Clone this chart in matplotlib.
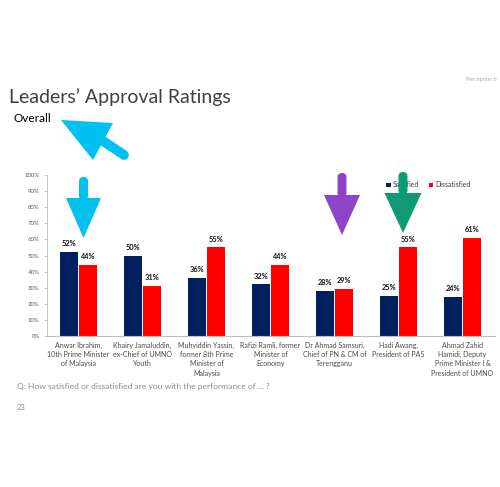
import matplotlib
matplotlib.use("Agg")
import matplotlib.pyplot as plt
import numpy as np
from matplotlib.patches import Polygon, FancyBboxPatch

# data
leaders = [
    "Anwar Ibrahim,\n10th Prime Minister\nof Malaysia",
    "Khairy Jamaluddin,\nex-Chief of UMNO\nYouth",
    "Muhyiddin Yassin,\nformer 8th Prime\nMinister of\nMalaysia",
    "Rafizi Ramli, former\nMinister of\nEconomy",
    "Dr Ahmad Samsuri,\nChief of PN & CM of\nTerengganu",
    "Hadi Awang,\nPresident of PAS",
    "Ahmad Zahid\nHamidi, Deputy\nPrime Minister I &\nPresident of UMNO",
]
satisfied = [52, 50, 36, 32, 28, 25, 24]
dissatisfied = [44, 31, 55, 44, 29, 55, 61]
y_ticks = list(range(0, 101, 10))

NAVY = "#002060"
RED = "#FF0000"
W, H = 500, 487

plt.rcParams["font.family"] = ["Lato", "DejaVu Sans"]

fig = plt.figure(figsize=(W / 100, H / 100), dpi=100)
fig.patch.set_facecolor("white")


def fx(px):
    return px / W


def fy(py):
    return 1 - py / H


# main chart area
ax = fig.add_axes([fx(46.5), fy(336), fx(494.5) - fx(46.5), fy(175) - fy(336)])
x = np.arange(len(leaders))
bw = 0.28
off = 0.145
b1 = ax.bar(x - off, satisfied, bw, color=NAVY, label="Satisfied")
b2 = ax.bar(x + off, dissatisfied, bw, color=RED, label="Dissatisfied")

for bars, vals in ((b1, satisfied), (b2, dissatisfied)):
    for b, v in zip(bars, vals):
        ax.annotate(f"{v}%", (b.get_x() + b.get_width() / 2, v),
                    xytext=(0, 3.5), textcoords="offset points",
                    ha="center", va="bottom", fontsize=5.3,
                    fontweight="bold", color="#111111")

ax.set_xlim(-0.5, len(leaders) - 0.5)
ax.set_ylim(0, 100)
ax.set_yticks(y_ticks)
ax.set_yticklabels([f"{t}%" for t in y_ticks])
ax.tick_params(axis="y", labelsize=4.3, labelcolor="#595959", length=2,
               color="#bfbfbf", width=0.6, pad=3)
ax.set_xticks(x)
ax.set_xticklabels(leaders, fontsize=5.0, color="#4a4a4a", linespacing=1.4)
ax.tick_params(axis="x", length=0, pad=4)
for s in ("top", "right"):
    ax.spines[s].set_visible(False)
ax.spines["left"].set_color("#bfbfbf")
ax.spines["left"].set_linewidth(0.6)
ax.spines["bottom"].set_color("#bfbfbf")
ax.spines["bottom"].set_linewidth(0.8)

leg = ax.legend(loc="upper right", bbox_to_anchor=(0.96, 1.0), ncol=2,
                frameon=False, fontsize=5, handlelength=0.6, handleheight=0.6,
                handletextpad=0.3, columnspacing=1.4, labelcolor="#404040")

# slide text
fig.text(fx(9), fy(97), "Leaders\u2019 Approval Ratings", fontsize=14,
         color="#404040", va="center", ha="left")
fig.text(fx(13), fy(118), "Overall", fontsize=8.5, color="black",
         va="center", ha="left")
fig.text(fx(466), fy(80), "Perception b", fontsize=4, color="#aaaaaa",
         va="center", ha="left")
fig.text(fx(17), fy(387), "Q: How satisfied or dissatisfied are you with the performance of ... ?",
         fontsize=6.1, color="#8c8c8c", va="center", ha="left")
fig.text(fx(17), fy(407), "23", fontsize=5.5, color="#8c8c8c",
         va="center", ha="left")


# highlight arrows drawn on top of the slide
def down_arrow(cx, top, head_top, half, tip, color, shaft=4.5):
    fig.patches.append(FancyBboxPatch(
        (fx(cx - shaft), fy(head_top + 2)), fx(2 * shaft), fy(top) - fy(head_top + 2),
        boxstyle="round,pad=0,rounding_size=0.009", transform=fig.transFigure,
        facecolor=color, edgecolor="none", zorder=10))
    fig.patches.append(Polygon(
        [(fx(cx - half), fy(head_top)), (fx(cx + half), fy(head_top)), (fx(cx), fy(tip))],
        closed=True, transform=fig.transFigure, facecolor=color,
        edgecolor="none", zorder=10))


down_arrow(83.5, 177, 198, 17.5, 238, "#00C0F0")
down_arrow(342, 173, 195, 18, 235, "#8E44C8")
down_arrow(403, 172, 193, 18.5, 233, "#0E9B73")

# diagonal arrow pointing at "Overall"
sky = "#00C0F0"
fig.lines.append(plt.Line2D([fx(100), fx(124)], [fy(139), fy(155)],
                            transform=fig.transFigure, color=sky, lw=7,
                            solid_capstyle="round", zorder=10))
fig.patches.append(Polygon([(fx(61), fy(120)), (fx(113), fy(123)), (fx(93), fy(160))],
                           closed=True, transform=fig.transFigure, facecolor=sky,
                           edgecolor="none", zorder=10))

fig.savefig("out.png", dpi=100, facecolor="white")
